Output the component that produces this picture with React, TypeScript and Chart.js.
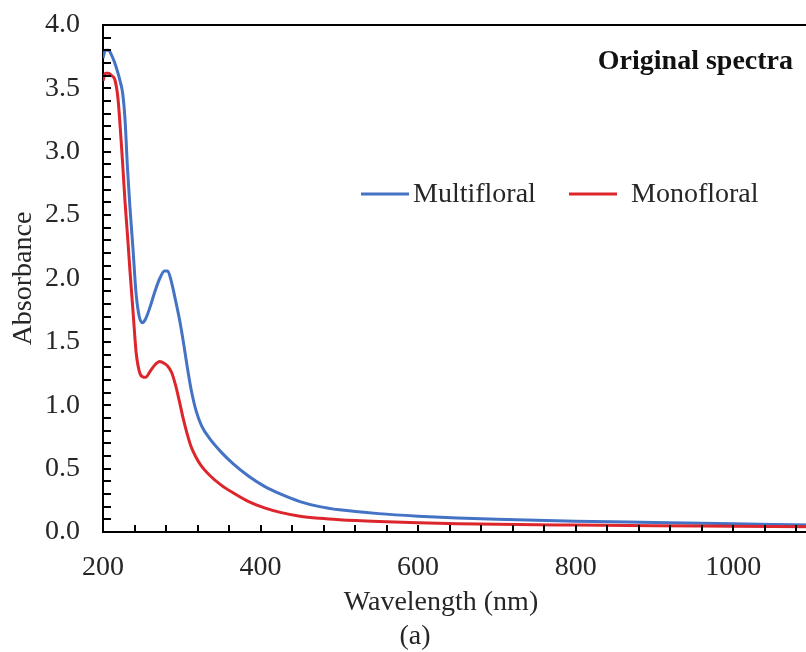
import React, { useEffect, useRef } from "react";
import { Chart, registerables } from "chart.js";

Chart.register(...registerables);

// ---- data ----
const WAVELENGTHS = [
  200, 203, 207, 211, 215, 219, 222, 225, 228, 231, 234, 238, 242, 246, 250, 254,
  260, 266, 272, 278, 282, 287, 292, 297, 302, 307, 312, 318, 325, 335, 350, 365,
  385, 405, 425, 450, 475, 500, 550, 600, 650, 700, 800, 900, 1000, 1100,
];
const MULTIFLORAL = [
  3.74, 3.8, 3.8, 3.76, 3.7, 3.62, 3.55, 3.46, 3.25, 2.88, 2.58, 2.24, 1.88, 1.7, 1.65, 1.68,
  1.78, 1.9, 2.0, 2.06, 2.06, 1.97, 1.83, 1.68, 1.5, 1.3, 1.12, 0.96, 0.84, 0.74, 0.63, 0.54,
  0.44, 0.36, 0.3, 0.24, 0.2, 0.175, 0.145, 0.125, 0.11, 0.1, 0.085, 0.075, 0.065, 0.055,
];
const MONOFLORAL = [
  3.56, 3.62, 3.62, 3.6, 3.57, 3.42, 3.18, 2.9, 2.6, 2.35, 2.08, 1.75, 1.42, 1.27, 1.225, 1.22,
  1.27, 1.32, 1.345, 1.33, 1.31, 1.26, 1.16, 1.03, 0.89, 0.77, 0.67, 0.59, 0.52, 0.45, 0.37, 0.31,
  0.24, 0.19, 0.155, 0.125, 0.108, 0.097, 0.083, 0.073, 0.066, 0.061, 0.055, 0.05, 0.046, 0.042,
];
const SERIES_LABELS = ["Multifloral", "Monofloral"];
const SERIES_COLORS = ["#4472c4", "#dc262c"];
const X_TICKS = [200, 400, 600, 800, 1000];
const Y_TICKS = [0, 0.5, 1.0, 1.5, 2.0, 2.5, 3.0, 3.5, 4.0];
const X_RANGE = [200, 1100];
const Y_RANGE = [0, 4];
const X_MINOR_STEP = 40;
const Y_MINOR_STEP = 0.1;
const PANEL_TITLE = "Original spectra";
const X_TITLE = "Wavelength (nm)";
const Y_TITLE = "Absorbance";
const CAPTION = "(a)";

const FONT = '"Liberation Serif", "Times New Roman", serif';
const TEXT_COLOR = "#262626";

const decorPlugin = {
  id: "decor",
  afterDraw(chart: any) {
    const { ctx, chartArea: a, scales } = chart;
    const xs = scales.x;
    const ys = scales.y;
    ctx.save();
    ctx.strokeStyle = "#000";
    ctx.lineWidth = 2;
    // top frame line
    ctx.beginPath();
    ctx.moveTo(a.left, a.top);
    ctx.lineTo(a.right, a.top);
    ctx.stroke();
    // inward minor ticks
    ctx.beginPath();
    const nx = Math.round((X_RANGE[1] - X_RANGE[0]) / X_MINOR_STEP);
    for (let i = 0; i <= nx; i++) {
      const px = Math.round(xs.getPixelForValue(X_RANGE[0] + i * X_MINOR_STEP));
      ctx.moveTo(px, a.bottom);
      ctx.lineTo(px, a.bottom - 7);
    }
    const ny = Math.round((Y_RANGE[1] - Y_RANGE[0]) / Y_MINOR_STEP);
    for (let i = 0; i <= ny; i++) {
      const py = Math.round(ys.getPixelForValue(Y_RANGE[0] + i * Y_MINOR_STEP));
      ctx.moveTo(a.left, py);
      ctx.lineTo(a.left + 8, py);
    }
    ctx.stroke();

    // panel title
    ctx.fillStyle = "#111";
    ctx.font = `bold 28px ${FONT}`;
    ctx.textAlign = "right";
    ctx.textBaseline = "middle";
    ctx.fillText(PANEL_TITLE, 793, 62);

    // legend
    ctx.font = `28px ${FONT}`;
    ctx.textAlign = "left";
    const legendItems = [
      { x0: 361, x1: 409, tx: 413 },
      { x0: 569, x1: 617, tx: 631 },
    ];
    chart.data.datasets.forEach((ds: any, i: number) => {
      const it = legendItems[i];
      ctx.strokeStyle = ds.borderColor;
      ctx.lineWidth = 3;
      ctx.beginPath();
      ctx.moveTo(it.x0, 194);
      ctx.lineTo(it.x1, 194);
      ctx.stroke();
      ctx.fillStyle = TEXT_COLOR;
      ctx.fillText(ds.label, it.tx, 195);
    });

    // x axis title and caption
    ctx.textAlign = "center";
    ctx.fillStyle = TEXT_COLOR;
    ctx.font = `28px ${FONT}`;
    ctx.fillText(X_TITLE, 441, 603);
    ctx.fillText(CAPTION, 415, 637);
    ctx.restore();
  },
};

export default function App() {
  const canvasRef = useRef<HTMLCanvasElement | null>(null);

  useEffect(() => {
    if (!canvasRef.current) return;
    const series = [MULTIFLORAL, MONOFLORAL];
    const chart = new Chart(canvasRef.current, {
      type: "line",
      data: {
        datasets: series.map((vals, i) => ({
          label: SERIES_LABELS[i],
          data: WAVELENGTHS.map((w, j) => ({ x: w, y: vals[j] })),
          borderColor: SERIES_COLORS[i],
          backgroundColor: SERIES_COLORS[i],
          borderWidth: 3,
          pointRadius: 0,
          cubicInterpolationMode: "monotone" as const,
          fill: false,
          order: i === 0 ? 1 : 0,
        })),
      },
      options: {
        animation: false,
        responsive: true,
        maintainAspectRatio: false,
        layout: { padding: { top: 25, left: 0, right: 0, bottom: 0 } },
        plugins: {
          legend: { display: false },
          tooltip: { enabled: false },
        },
        scales: {
          x: {
            type: "linear",
            min: X_RANGE[0],
            max: X_RANGE[1],
            grid: { display: false, drawTicks: false },
            border: { display: true, color: "#000", width: 2 },
            afterBuildTicks: (scale: any) => {
              scale.ticks = X_TICKS.map((v) => ({ value: v }));
            },
            afterFit: (scale: any) => {
              scale.height = 120;
              scale.paddingLeft = 0;
              scale.paddingRight = 0;
            },
            ticks: {
              color: TEXT_COLOR,
              font: { family: FONT, size: 28 },
              padding: 19,
              maxRotation: 0,
              callback: (v: any) => String(v),
            },
          },
          y: {
            type: "linear",
            min: Y_RANGE[0],
            max: Y_RANGE[1],
            grid: { display: false, drawTicks: false },
            border: { display: true, color: "#000", width: 2 },
            afterBuildTicks: (scale: any) => {
              scale.ticks = Y_TICKS.map((v) => ({ value: v }));
            },
            afterFit: (scale: any) => {
              scale.width = 103;
              scale.paddingTop = 0;
              scale.paddingBottom = 0;
            },
            ticks: {
              color: TEXT_COLOR,
              font: { family: FONT, size: 28 },
              padding: 23,
              callback: (v: any) => Number(v).toFixed(1),
            },
            title: {
              display: true,
              text: Y_TITLE,
              color: TEXT_COLOR,
              font: { family: FONT, size: 28 },
              padding: { top: 7, bottom: 0 },
            },
          },
        },
      },
      plugins: [decorPlugin],
    });
    return () => chart.destroy();
  }, []);

  return (
    <div
      style={{
        position: "fixed",
        left: 0,
        top: 0,
        width: 806,
        height: 652,
        overflow: "hidden",
        background: "#fff",
      }}
    >
      <div style={{ position: "relative", width: 812, height: 652 }}>
        <canvas ref={canvasRef} />
      </div>
    </div>
  );
}
